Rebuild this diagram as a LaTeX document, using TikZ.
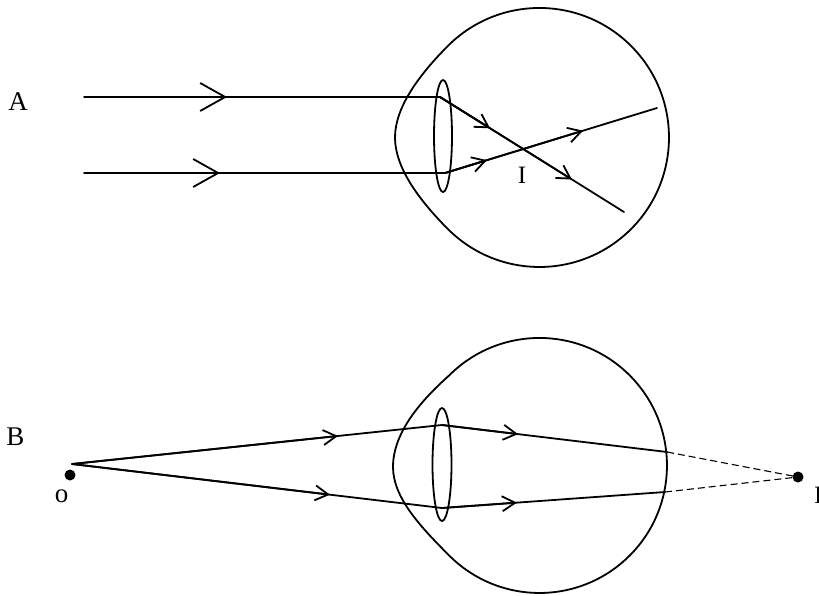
\documentclass[tikz,border=0pt]{standalone}
\usepackage{fontspec}
\setmainfont{Liberation Serif}
\usetikzlibrary{arrows.meta,calc}
\begin{document}
\begin{tikzpicture}[x=1pt,y=1pt,
  ray/.style={line width=1.8pt, line join=round, line cap=round},
  eyeline/.style={line width=1.8pt},
  bigtip/.style={line width=1.8pt, -{Straight Barb[length=25pt, width=28pt]}},
  smalltip/.style={line width=1.8pt, -{Straight Barb[length=13pt, width=15pt]}},
  dashline/.style={line width=1.1pt, dash pattern=on 7pt off 4pt},
  lbl/.style={font=\fontsize{27}{32}\selectfont, inner sep=0pt},
  lbls/.style={font=\fontsize{25}{30}\selectfont, inner sep=0pt},
  dot/.style={circle, fill=black, inner sep=0pt, minimum size=11pt}]
\fill[white] (0,0) rectangle (819,-595);
\useasboundingbox (0,0) rectangle (819,-595);

% ---------- top eye (A) ----------
\coordinate (P1) at (447.9,-45.9);
\draw[eyeline] (P1) arc[start angle=135, end angle=-135, radius=129.5]
  .. controls (418,-199) and (395,-167) .. (395,-137.5)
  .. controls (395,-108) and (418,-76) .. (P1) -- cycle;
\draw[eyeline] (443,-136) ellipse[x radius=9, y radius=56];

\coordinate (a1) at (84,-97);
\coordinate (l1) at (440,-97);
\coordinate (e1) at (624,-212);
\coordinate (a2) at (84,-173);
\coordinate (l2) at (445,-173);
\coordinate (e2) at (657,-108);

\draw[ray] (a1) -- (l1) -- (e1);
\draw[ray] (a2) -- (l2) -- (e2);
\draw[bigtip] (a1) -- (227,-97);
\draw[bigtip] (a2) -- (220,-173);
\draw[smalltip] (l1) -- ($(l1)!0.272!(e1)$);
\draw[smalltip] (l1) -- ($(l1)!0.717!(e1)$);
\draw[smalltip] (l2) -- ($(l2)!0.198!(e2)$);
\draw[smalltip] (l2) -- ($(l2)!0.651!(e2)$);

\node[lbl, anchor=base] (labA) at (18,-110) {A};
\node[lbls, anchor=base] (labI) at (522,-183) {I};

% ---------- bottom eye (B) ----------
\coordinate (Q1) at (449.3,-375.3);
\draw[eyeline] (Q1) arc[start angle=135, end angle=-135, radius=127.5]
  .. controls (419.3,-525.7) and (393,-497) .. (393,-467)
  .. controls (393,-435) and (417,-404) .. (Q1) -- cycle;
\draw[eyeline] (442,-464.5) ellipse[x radius=9.5, y radius=56.5];

\coordinate (o) at (72,-464);
\coordinate (u) at (442,-425);
\coordinate (w) at (442,-508);
\coordinate (r1) at (667,-452);
\coordinate (r2) at (665,-492);

\node[dot] (odot) at (70,-475) {};
\node[dot] (idot) at (798,-477) {};

\draw[ray] (o) -- (u) -- (r1);
\draw[ray] (o) -- (w) -- (r2);
\draw[smalltip] (o) -- ($(o)!0.719!(u)$);
\draw[smalltip] (o) -- ($(o)!0.697!(w)$);
\draw[smalltip] (u) -- ($(u)!0.338!(r1)$);
\draw[smalltip] (w) -- ($(w)!0.336!(r2)$);
\draw[dashline] (r1) -- (idot.center);
\draw[dashline] (r2) -- (idot.center);

\node[lbl, anchor=base] (labB) at (15.5,-445) {B};
\node[lbl, anchor=base] (labO) at (61.5,-502) {o};
\node[lbls, anchor=base west] (labI2) at (814,-503) {I};
\end{tikzpicture}
\end{document}
